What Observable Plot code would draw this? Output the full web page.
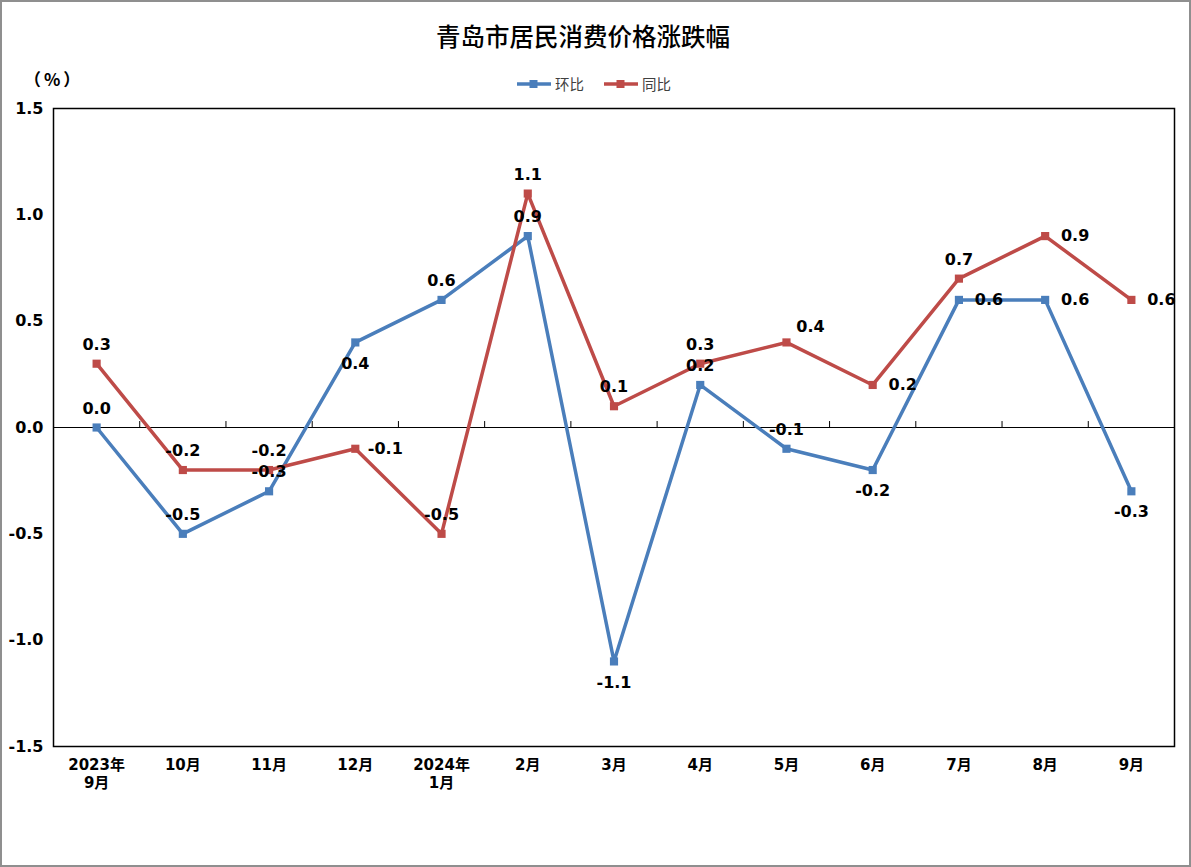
<!DOCTYPE html>
<html><head><meta charset="utf-8">
<script src="https://cdn.jsdelivr.net/npm/d3@7"></script>
<script src="https://cdn.jsdelivr.net/npm/@observablehq/plot@0.6"></script>
<style>
body{margin:0;background:#fff;}
#wrap{position:relative;width:1191px;height:867px;overflow:hidden;background:#fff;font-family:"DejaVu Sans","Noto Sans CJK SC",sans-serif;}
#border{position:absolute;left:0;top:0;width:1191px;height:867px;box-sizing:border-box;border:2px solid #8f8f8f;pointer-events:none;}
#title{position:absolute;top:18px;left:0;width:1166px;text-align:center;font-family:"Noto Sans CJK SC",sans-serif;font-size:24.5px;font-weight:500;color:#000;}
#unit{position:absolute;left:24px;top:66px;font-size:17px;font-weight:bold;letter-spacing:3px;font-family:"Noto Sans CJK SC",sans-serif;}
#legend{position:absolute;left:517px;top:73px;display:flex;align-items:center;font-family:"Noto Sans CJK SC",sans-serif;font-size:14.5px;color:#404040;}
#legend .item{display:flex;align-items:center;margin-right:20px;}
#legend svg{margin-right:4px;}
#chart{position:absolute;left:0;top:0;}
</style>
</head><body>
<div id="wrap">
  <div id="chart"></div>
  <div id="title"></div>
  <div id="unit"></div>
  <div id="legend"></div>
  <div id="border"></div>
</div>
<script>
const titleText = "青岛市居民消费价格涨跌幅";
const unitText = "（%）";
const seriesNames = ["环比", "同比"];
const seriesColors = ["#4A7EBB", "#BE4B48"];
const months = ["2023年\n9月","10月","11月","12月","2024年\n1月","2月","3月","4月","5月","6月","7月","8月","9月"];
const huanbi = [0.0,-0.5,-0.3,0.4,0.6,0.9,-1.1,0.2,-0.1,-0.2,0.6,0.6,-0.3];
const tongbi = [0.3,-0.2,-0.2,-0.1,-0.5,1.1,0.1,0.3,0.4,0.2,0.7,0.9,0.6];
const huanbiLabelSide = ["top","top","top","bottom","top","top","bottom","top","top","bottom","right","right","bottom"];
const tongbiLabelSide = ["top","top","top","right","top","top","top","top","topright","right","top","right","right"];
const yTicks = [-1.5,-1.0,-0.5,0.0,0.5,1.0,1.5];

document.getElementById("title").textContent = titleText;
document.getElementById("unit").textContent = unitText;

const legend = document.getElementById("legend");
seriesNames.forEach((n, i) => {
  const it = document.createElement("div");
  it.className = "item";
  it.innerHTML = `<svg width="34" height="10"><line x1="0" y1="5" x2="34" y2="5" stroke="${seriesColors[i]}" stroke-width="3.5"/><rect x="12.5" y="1" width="8" height="8" fill="${seriesColors[i]}"/></svg><span>${n}</span>`;
  legend.appendChild(it);
});

const rows = [];
months.forEach((m, i) => {
  rows.push({month: m, value: huanbi[i], series: seriesNames[0], side: huanbiLabelSide[i]});
});
months.forEach((m, i) => {
  rows.push({month: m, value: tongbi[i], series: seriesNames[1], side: tongbiLabelSide[i]});
});

const W = 1191, H = 867, mL = 53, mR = 17, mT = 108, mB = 121;
const step = (W - mL - mR) / months.length;
const offsets = {top: [0, -19], bottom: [0, 21], right: [30, 0], topright: [24, -16]};

const labelMarks = Object.entries(offsets).map(([side, [dx, dy]]) =>
  Plot.text(rows.filter(d => d.side === side), {
    x: "month", y: "value", text: d => d.value.toFixed(1),
    dx, dy, fontSize: 16, fontWeight: "bold", fill: "#000"
  })
);

const chart = Plot.plot({
  width: W, height: H,
  marginLeft: mL, marginRight: mR, marginTop: mT, marginBottom: mB,
  style: {fontFamily: "'DejaVu Sans','Noto Sans CJK SC',sans-serif", background: "transparent"},
  x: {type: "point", domain: months, padding: 0.5, round: false, label: null},
  y: {domain: [-1.5, 1.5], label: null},
  color: {domain: seriesNames, range: seriesColors},
  marks: [
    Plot.ruleY([0], {stroke: "#000", strokeWidth: 1.2}),
    Plot.ruleX(months.slice(1), {x: d => d, y1: 0, y2: 0.028, dx: -step / 2, stroke: "#000", strokeWidth: 1}),
    Plot.line(rows, {x: "month", y: "value", z: "series", stroke: "series", strokeWidth: 3.5}),
    Plot.dot(rows, {x: "month", y: "value", fill: "series", symbol: "square", r: 4.6, stroke: null}),
    ...labelMarks,
    Plot.frame({stroke: "#000", strokeWidth: 1.5}),
    Plot.axisY({ticks: yTicks, tickSize: 0, tickPadding: 10, tickFormat: d => d.toFixed(1), fontSize: 16, fontWeight: "bold", fill: "#000", label: null}),
    Plot.axisX({tickSize: 0, tickPadding: 11, fontSize: 15, fontWeight: "bold", fill: "#000", lineHeight: 1.2, label: null})
  ]
});
document.getElementById("chart").appendChild(chart);
</script>
</body></html>
